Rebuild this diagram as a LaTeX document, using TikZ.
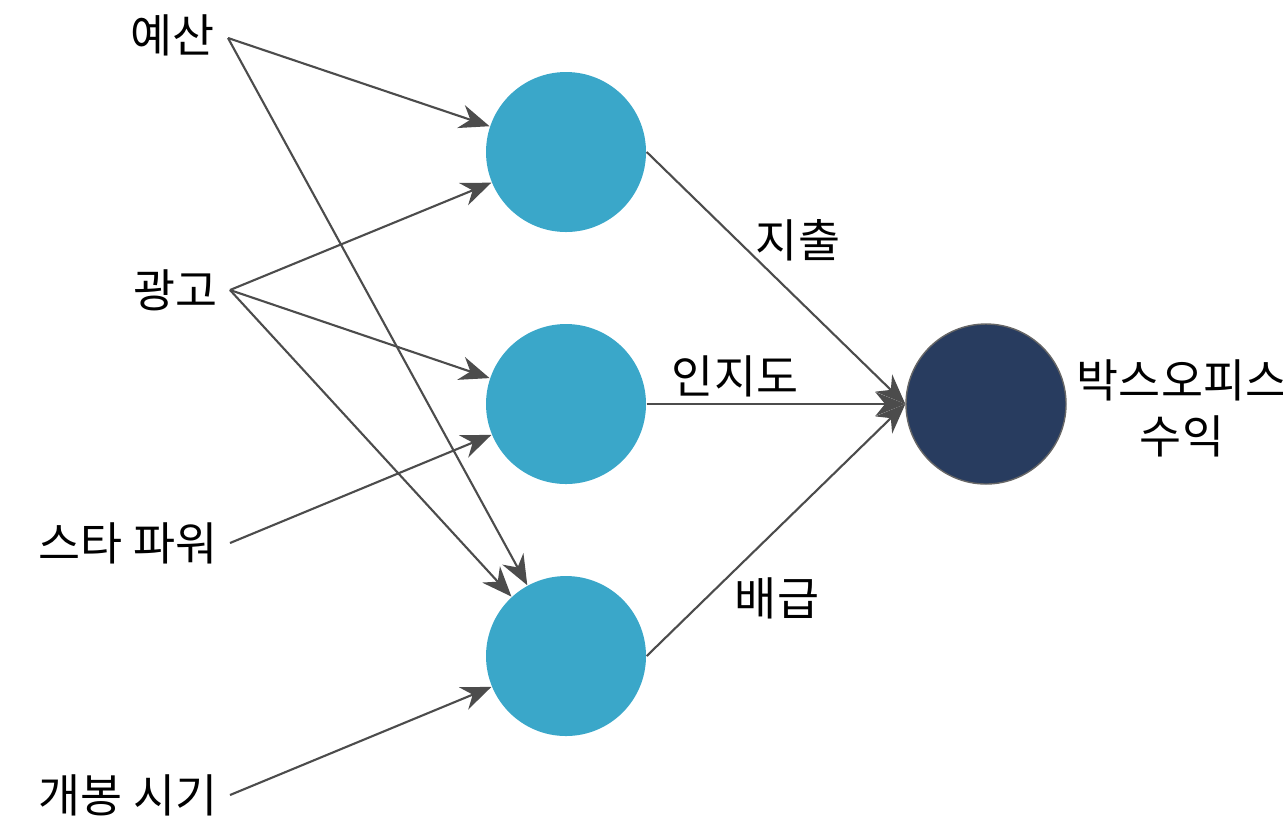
\documentclass[tikz,border=0pt]{standalone}
\usepackage{fontspec}
\setmainfont{Noto Sans CJK KR}
\usetikzlibrary{arrows.meta}
\definecolor{hidden}{HTML}{3AA7C9}
\definecolor{outc}{HTML}{283C5F}
\tikzstyle{neuron}=[circle,minimum size=1.6cm,inner sep=0pt,fill=hidden]
\tikzstyle{output}=[circle,minimum size=1.6cm,inner sep=0pt,fill=outc,draw=black!60]
\tikzstyle{word}=[font=\fontsize{13}{16}\selectfont,inner sep=0pt]
\tikzstyle{arrow}=[draw=black!70,line width=0.6pt,-{Stealth[length=3mm,width=2.4mm]}]

\begin{document}
\begin{tikzpicture}
        \useasboundingbox (0,0) rectangle (12.83,-8.16);
        \node (budget) [word,anchor=east] at (2.15,-0.35) {예산};
        \node (ads) [word,anchor=east] at (2.18,-2.90) {광고};
        \node (star) [word,anchor=east] at (2.18,-5.43) {스타 파워};
        \node (release) [word,anchor=east] at (2.18,-7.95) {개봉 시기};
        \coordinate (b0) at (2.28,-0.38);
        \coordinate (a0) at (2.30,-2.90);
        \coordinate (s0) at (2.30,-5.43);
        \coordinate (r0) at (2.30,-7.95);
        \node (h1) [neuron] at (5.66,-1.52) {};
        \node (h2) [neuron] at (5.66,-4.04) {};
        \node (h3) [neuron] at (5.66,-6.56) {};
        \node (out) [output] at (9.86,-4.04) {};
        \node (result) [word,align=center] at (11.82,-4.08) {박스오피스\\수익};

        \draw [arrow] (b0) -- (h1);
        \draw [arrow] (b0) -- (h3);
        \draw [arrow] (a0) -- (h1);
        \draw [arrow] (a0) -- (h2);
        \draw [arrow] (a0) -- (h3);
        \draw [arrow] (s0) -- (h2);
        \draw [arrow] (r0) -- (h3);
        \draw [arrow] (h1.east) -- (out.west);
        \draw [arrow] (h2) -- (out);
        \draw [arrow] (h3.east) -- (out.west);
        \node [word] at (7.98,-2.40) {지출};
        \node [word] at (7.35,-3.76) {인지도};
        \node [word] at (7.77,-5.98) {배급};
\end{tikzpicture}
\end{document}
